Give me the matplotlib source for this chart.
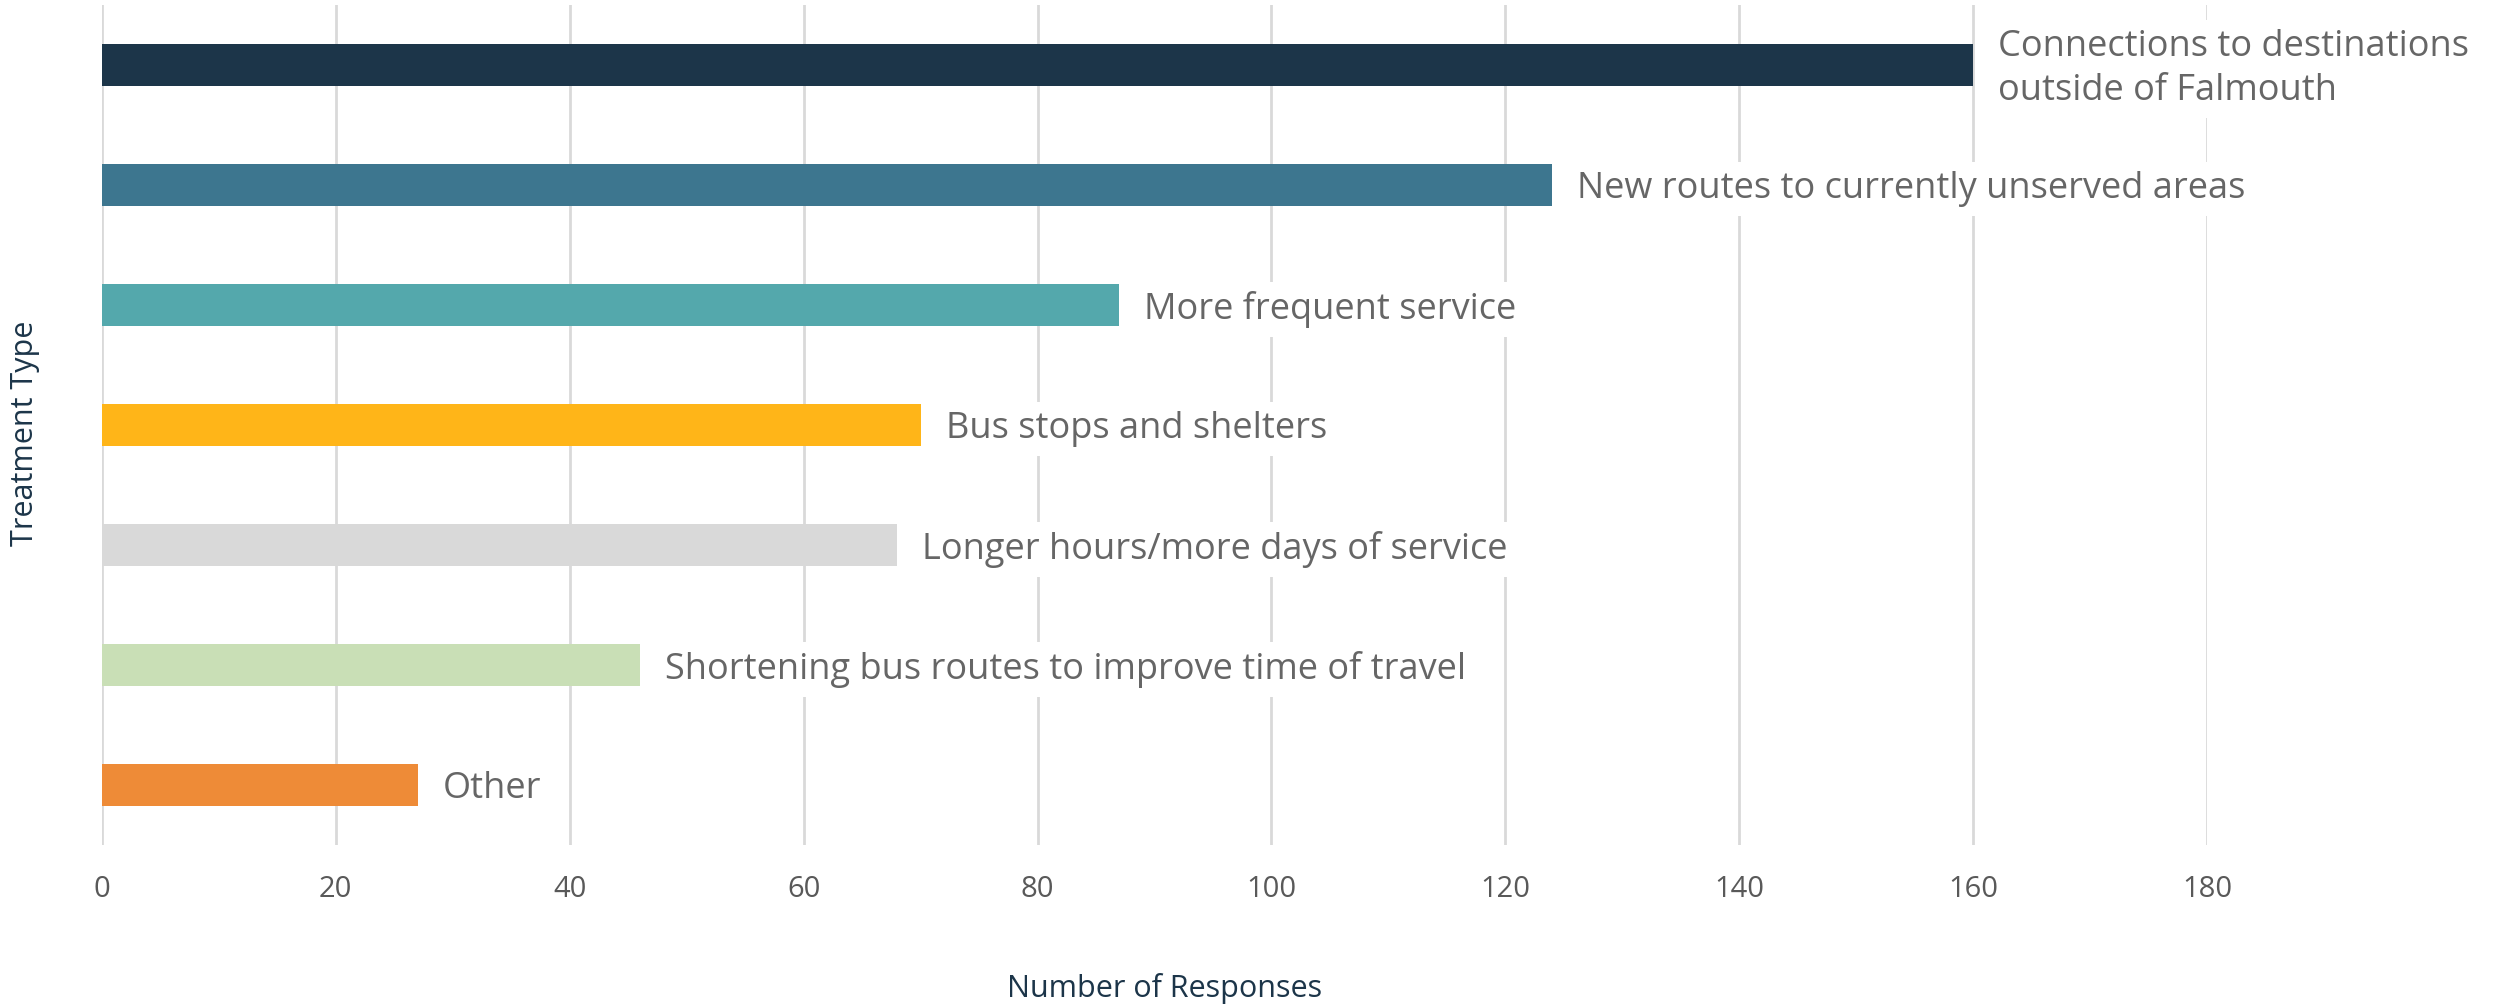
import matplotlib.pyplot as plt
import numpy as np

# Survey results
categories = [
    "Connections to destinations\noutside of Falmouth",
    "New routes to currently unserved areas",
    "More frequent service",
    "Bus stops and shelters",
    "Longer hours/more days of service",
    "Shortening bus routes to improve time of travel",
    "Other",
]
responses = [160, 124, 87, 70, 68, 46, 27]
bar_colors = ["#1c3549", "#3d768f", "#54a8ac", "#ffb518", "#d9d9d9", "#c9dfb6", "#ee8b37"]
x_ticks = [0, 20, 40, 60, 80, 100, 120, 140, 160, 180]

plt.rcParams['font.family'] = ['Open Sans', 'DejaVu Sans']

fig = plt.figure(figsize=(24.97, 10.07), dpi=100)
ax = fig.add_axes([0.0408, 0.161, 0.8431, 0.834])

y = np.arange(len(categories))
ax.barh(y, responses, height=0.35, color=bar_colors, zorder=2)

# category labels next to the bars, white box breaks the gridlines
for yi, val, lab in zip(y, responses, categories):
    ax.annotate(lab, xy=(val, yi), xytext=(18, -3), textcoords="offset points",
                ha="left", va="center", fontsize=26, color="#666666",
                linespacing=1.3, annotation_clip=False, zorder=3,
                bbox=dict(boxstyle="square,pad=0.25", fc="white", ec="none"))

ax.set_xlim(0, 180)
ax.set_ylim(len(categories) - 0.5, -0.5)
ax.set_xticks(x_ticks)
ax.set_yticks([])
ax.grid(axis="x", color="#d9d9d9", linewidth=2, zorder=0)
ax.tick_params(axis="x", length=0, pad=22, labelsize=21, labelcolor="#595959")
for s in ax.spines.values():
    s.set_visible(False)

ax.set_xlabel("Number of Responses", fontsize=22, color="#1c3549", va="center")
ax.xaxis.set_label_coords(0.505, -0.171)
ax.set_ylabel("Treatment Type", fontsize=22, color="#1c3549", va="center")
ax.yaxis.set_label_coords(-0.0366, 0.49)

fig.savefig("out.png", dpi=100, facecolor="white")
